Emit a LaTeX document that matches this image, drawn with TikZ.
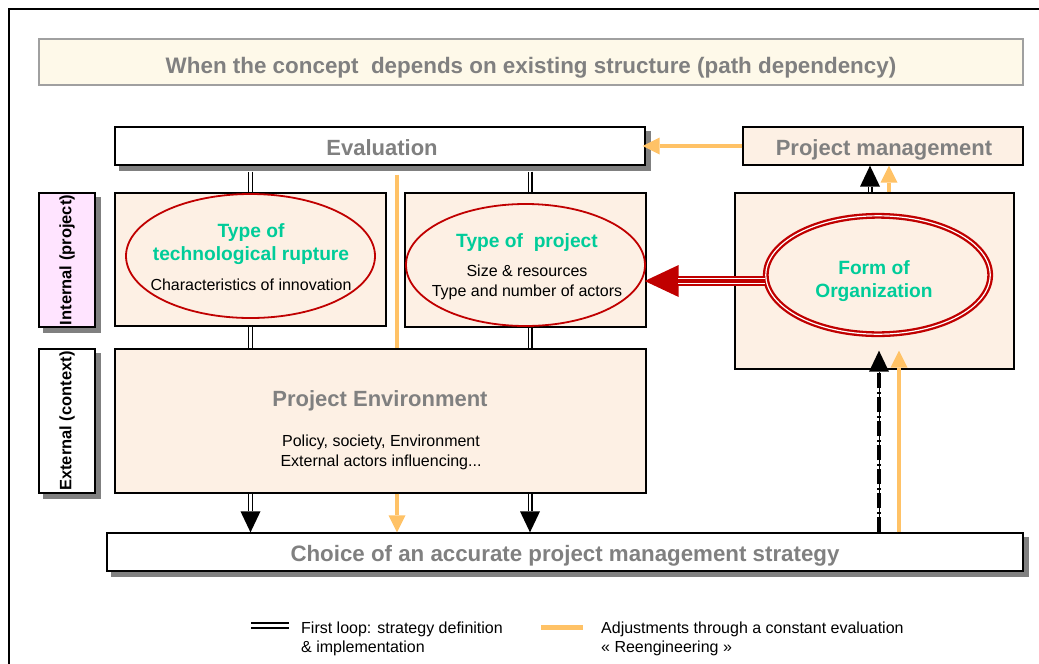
\documentclass[tikz,border=0pt]{standalone}
\usepackage{fontspec}
\setmainfont{Liberation Sans}
\usetikzlibrary{shapes.geometric,arrows.meta,calc}
\pgfdeclarelayer{bg}
\pgfsetlayers{bg,main}
\definecolor{peach}{RGB}{253,240,228}
\definecolor{cream}{RGB}{254,249,233}
\definecolor{pinkl}{RGB}{255,228,255}
\definecolor{txtgray}{RGB}{128,128,128}
\definecolor{shgray}{RGB}{128,128,128}
\definecolor{bordgray}{RGB}{160,160,160}
\definecolor{darkred}{RGB}{192,0,0}
\definecolor{greentxt}{RGB}{0,204,153}
\definecolor{orng}{RGB}{255,194,102}
\tikzset{
  frame/.style={draw=black, line width=1.3pt},
  box/.style={draw=black, line width=1.3pt, inner sep=0pt, fill=peach},
  wbox/.style={box, fill=white},
  titlebox/.style={draw=bordgray, line width=1.5pt, fill=cream, inner sep=0pt},
  shadowfill/.style={fill=shgray},
  ttl/.style={font=\fontsize{22.4}{26}\selectfont\bfseries, text=txtgray, anchor=base, inner sep=0pt},
  hd/.style={font=\fontsize{22}{26}\selectfont\bfseries, text=txtgray, anchor=base, inner sep=0pt},
  gr/.style={font=\fontsize{19.2}{22}\selectfont\bfseries, text=greentxt, anchor=base, inner sep=0pt},
  sm/.style={font=\fontsize{16}{19}\selectfont, anchor=base, inner sep=0pt},
  lg/.style={font=\fontsize{16}{19}\selectfont, anchor=base west, inner sep=0pt},
  side/.style={font=\fontsize{16.5}{19}\selectfont\bfseries, rotate=90, inner sep=0pt},
  oval/.style={ellipse, draw=darkred, line width=1.8pt, fill=peach, inner sep=0pt},
  oval2/.style={ellipse, draw=darkred, line width=2.3pt, double=white, double distance=1.2pt, fill=peach, inner sep=0pt},
  dbl/.style={draw=black, line width=1.3pt, double=white, double distance=2.4pt},
  dbllg/.style={draw=black, line width=2pt, double=white, double distance=3pt},
  btip/.style={draw=black, line width=0.6pt, -{Triangle[length=21pt,width=20pt,line width=0pt]}},
  otip/.style={draw=orng, line width=4pt, -{Triangle[length=17pt,width=17pt,line width=0pt]}},
  oline/.style={draw=orng, line width=4pt},
  olinelg/.style={draw=orng, line width=5pt},
  dashdot/.style={draw=black, line width=4.5pt, dash pattern=on 15pt off 3.5pt on 2pt off 3.5pt},
  redshaft/.style={draw=darkred, line width=10.5pt},
  redstripes/.style={draw=white, line width=0.9pt, double=darkred, double distance=4.2pt},
  redtip/.style={draw=darkred, line width=0.6pt, -{Triangle[length=34pt,width=32pt,line width=0pt]}},
}
\begin{document}
\begin{tikzpicture}[x=1pt,y=-1pt]
\useasboundingbox (0,0) rectangle (1039,664);
\draw[frame] (9,664) -- (9,9) -- (1039,9);

% boxes
\node[titlebox, minimum width=984, minimum height=46] (title) at (531,62) {};
\node[wbox, minimum width=530, minimum height=38] (eval) at (380,146) {};
\node[box, minimum width=280, minimum height=38] (pm) at (883,146) {};
\node[box, fill=pinkl, minimum width=56, minimum height=134] (intl) at (67,260) {};
\node[box, minimum width=271, minimum height=133] (tech) at (250.5,259.5) {};
\node[box, minimum width=241, minimum height=134] (tp) at (525.5,260) {};
\node[box, minimum width=279, minimum height=176] (form) at (874.5,281) {};
\node[wbox, minimum width=56, minimum height=144] (extl) at (67,421) {};
\node[box, minimum width=531, minimum height=144] (env) at (380.5,421) {};
\node[wbox, minimum width=916, minimum height=38] (choice) at (565,552) {};

% shadows
\begin{pgfonlayer}{bg}
\fill[shadowfill] ($(eval.south west)+(5,5)$) rectangle ($(eval.north east)+(5,5)$);
\fill[shadowfill] ($(intl.south west)+(5,5)$) rectangle ($(intl.north east)+(5,5)$);
\fill[shadowfill] ($(extl.south west)+(5,5)$) rectangle ($(extl.north east)+(5,5)$);
\fill[shadowfill] ($(choice.south west)+(5,5)$) rectangle ($(choice.north east)+(5,5)$);
\end{pgfonlayer}

% ellipses
\node[oval, minimum width=249, minimum height=124] (te) at (250.5,256) {};
\node[oval, minimum width=239, minimum height=122] (pe) at (525.5,265) {};
\node[oval2, minimum width=224.4, minimum height=118.4] (fe) at (878,275) {};

% texts
\node[ttl] (titleT) at (531,73) {When the concept~ depends on existing structure (path dependency)};
\node[hd] (evalT) at (382,155) {Evaluation};
\node[hd] (pmT) at (884,155) {Project management};
\node[side] (intlT) at (intl.center) {Internal (project)};
\node[side] (extlT) at (extl.center) {External (context)};
\node[gr] (teT1) at (251,237) {Type of};
\node[gr] (teT2) at (251,260) {technological rupture};
\node[sm] (teT3) at (251,290) {Characteristics of innovation};
\node[gr] (peT1) at (527,247.5) {Type of~ project};
\node[sm] (peT2) at (527,276.5) {Size \& resources};
\node[sm] (peT3) at (527,296) {Type and number of actors};
\node[gr] (feT1) at (874,274) {Form of};
\node[gr] (feT2) at (874,297.5) {Organization};
\node[hd] (envT1) at (380,406) {Project Environment};
\node[sm] (envT2) at (381,446) {Policy, society, Environment};
\node[sm] (envT3) at (381,466) {External actors influencing...};
\node[hd, font=\fontsize{22.3}{26}\selectfont\bfseries] (choiceT) at (565,561.5) {Choice of an accurate project management strategy};

% column coordinates
\coordinate (xb) at (530,0);
\coordinate (xo) at (397,0);
\coordinate (xc) at (879,0);
\coordinate (xd) at (899,0);
\coordinate (xe) at (870,0);
\coordinate (xf) at (889,0);
\coordinate (tipC) at ($(xc |- form.south)+(0,-19)$);
\coordinate (tipD) at ($(xd |- form.south)+(0,-19)$);

% PM -> Evaluation (orange)
\draw[otip, shorten >=-3pt] (pm.west) -- (eval.east |- pm.west);

% left column double lines
\draw[dbl, shorten <=6pt] (tech.north |- eval.south) -- (tech.north);
\draw[dbl] (tech.south) -- (tech.south |- env.north);
\draw[btip] (tech.south |- env.south) -- (tech.south |- choice.north);
\draw[dbl, shorten >=21pt] (tech.south |- env.south) -- (tech.south |- choice.north);

% middle column double lines
\draw[dbl, shorten <=6pt] (xb |- eval.south) -- (xb |- tp.north);
\draw[dbl] (xb |- tp.south) -- (xb |- env.north);
\draw[btip] (xb |- env.south) -- (xb |- choice.north);
\draw[dbl, shorten >=21pt] (xb |- env.south) -- (xb |- choice.north);

% orange middle line
\draw[oline, shorten <=9pt] (xo |- eval.south) -- (xo |- env.north);
\draw[otip] (xo |- env.south) -- (xo |- choice.north);

% choice -> form
\draw[btip] (xc |- choice.north) -- (tipC);
\draw[dashdot, shorten >=21pt] (xc |- choice.north) -- (tipC);
\draw[otip] (xd |- choice.north) -- (tipD);

% form -> project management
\draw[btip] (xe |- form.north) -- (xe |- pm.south);
\draw[dbl, shorten >=21pt] (xe |- form.north) -- (xe |- pm.south);
\draw[otip] (xf |- form.north) -- (xf |- pm.south);

% form of organization -> type of project (red)
\draw[redtip, shorten >=-2pt] (fe.west |- form.center) -- (tp.east |- form.center);
\draw[redshaft, shorten >=31pt] (fe.west |- form.center) -- (tp.east |- form.center);
\draw[redstripes, shorten >=31pt] (fe.west |- form.center) -- (tp.east |- form.center);

% legend
\coordinate (lgA1) at (251,625);
\coordinate (lgA2) at (289,625);
\coordinate (lgB1) at (541,627);
\coordinate (lgB2) at (583,627);
\draw[dbllg] (lgA1) -- (lgA2);
\draw[olinelg] (lgB1) -- (lgB2);
\node[lg] (lgT1) at (301,633) {First loop: strategy definition};
\node[lg] (lgT2) at (301,652) {\& implementation};
\node[lg] (lgT3) at (601,633) {Adjustments through a constant evaluation};
\node[lg] (lgT4) at (601,652) {« Reengineering »};
\end{tikzpicture}
\end{document}
